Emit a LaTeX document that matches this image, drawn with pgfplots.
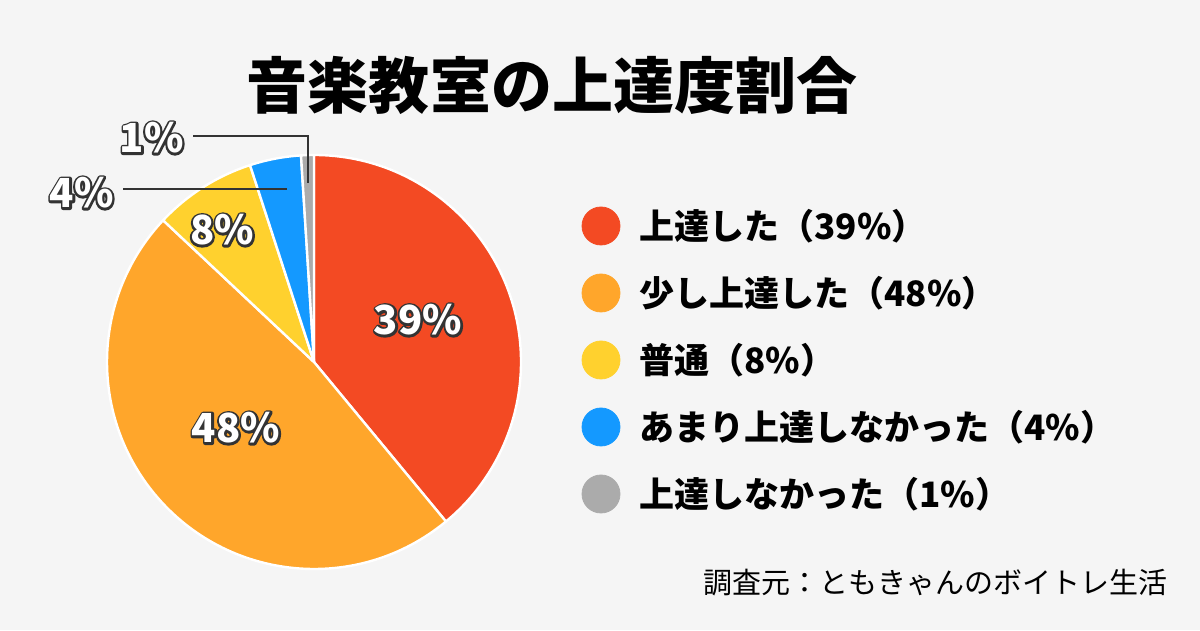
\documentclass[border=0pt]{standalone}
\usepackage{fontspec}
\setmainfont{Noto Sans CJK JP}
\usepackage{pgfplots}
\pgfplotsset{compat=1.18}
\usepackage{pgfplotstable}
\definecolor{bg}{HTML}{F5F5F5}
\definecolor{c0}{HTML}{F34A23}
\definecolor{c1}{HTML}{FFA62B}
\definecolor{c2}{HTML}{FFD12E}
\definecolor{c3}{HTML}{1499FF}
\definecolor{c4}{HTML}{ABABAB}
\definecolor{ink}{HTML}{333333}
\newcommand\outl[1]{\rlap{\textcolor{ink}{\special{pdf:literal direct 2 Tr 2.2 w 1 j 0.2 0.2 0.2 RG}#1\special{pdf:literal direct 0 Tr}}}\textcolor{white}{#1}}
\pgfplotstableread{
pct
39
48
8
4
1
}\piedata
\begin{document}%
\gdef\angacc{90}%
\pgfplotsforeachungrouped \i in {0,...,4}{%
  \pgfplotstablegetelem{\i}{pct}\of\piedata%
  \pgfmathsetmacro\endang{\angacc-3.6*\pgfplotsretval}%
  \expandafter\xdef\csname sS\i\endcsname{\angacc}%
  \expandafter\xdef\csname sE\i\endcsname{\endang}%
  \xdef\angacc{\endang}%
}%
\begin{tikzpicture}
\begin{axis}[x=0.5bp, y=0.5bp, xmin=0, xmax=1200, ymin=0, ymax=630,
  hide axis, clip=false]
\fill[bg] (axis cs:0,0) rectangle (axis cs:1200,630);
\pgfplotsinvokeforeach{0,...,4}{
  \fill[fill=c#1, draw=white, line width=1.2bp, line join=round]
    (axis cs:314,268) -- ++(\csname sS#1\endcsname:103.5bp)
    arc[start angle=\csname sS#1\endcsname, end angle=\csname sE#1\endcsname, radius=103.5bp] -- cycle;
}
% leader lines
\draw[ink, line width=1bp] (axis cs:193,494) -- (axis cs:308,494) -- (axis cs:308,447);
\draw[ink, line width=1bp] (axis cs:123,441) -- (axis cs:287,441);
% slice labels
\tikzset{pl/.style={font=\bfseries\fontsize{20bp}{24bp}\selectfont, inner sep=0pt}}
\node[pl] at (axis cs:418,310) {\outl{39\%}};
\node[pl] at (axis cs:236,202) {\outl{48\%}};
\node[pl] at (axis cs:222,400) {\outl{8\%}};
\node[pl, anchor=east] at (axis cs:114,437) {\outl{4\%}};
\node[pl, anchor=east] at (axis cs:184,492) {\outl{1\%}};
% legend
\addplot[only marks, mark=*, mark size=9.5bp, color=c0] coordinates {(601,404)};
\addplot[only marks, mark=*, mark size=9.5bp, color=c1] coordinates {(601,337)};
\addplot[only marks, mark=*, mark size=9.5bp, color=c2] coordinates {(601,270)};
\addplot[only marks, mark=*, mark size=9.5bp, color=c3] coordinates {(601,203)};
\addplot[only marks, mark=*, mark size=9.5bp, color=c4] coordinates {(601,136)};
\tikzset{lg/.style={anchor=west, font=\bfseries\fontsize{17.5bp}{20bp}\selectfont, inner sep=0pt}}
\node[lg] at (axis cs:639,404) {上達した（39\%）};
\node[lg] at (axis cs:639,337) {少し上達した（48\%）};
\node[lg] at (axis cs:639,270) {普通（8\%）};
\node[lg] at (axis cs:639,203) {あまり上達しなかった（4\%）};
\node[lg] at (axis cs:639,136) {上達しなかった（1\%）};
% title and source
\node[font=\bfseries\fontsize{30.5bp}{36bp}\selectfont] at (axis cs:552,545) {音楽教室の上達度割合};
\node[anchor=east, font=\fontsize{14.5bp}{17bp}\selectfont, inner sep=0pt] at (axis cs:1168,47) {調査元：ともきゃんのボイトレ生活};
\end{axis}
\end{tikzpicture}%
\end{document}
